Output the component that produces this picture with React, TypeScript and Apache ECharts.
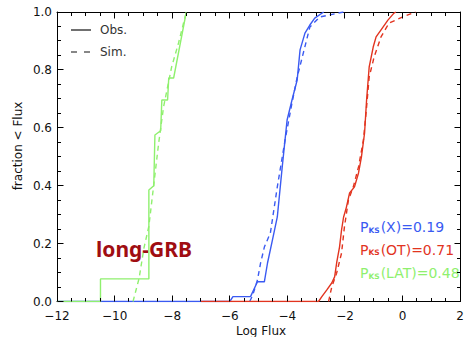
import React, { useEffect, useRef } from "react";
import * as echarts from "echarts";

// ---- data ----
const greenObsX = [-12, -10.49, -10.49, -8.81, -8.81, -8.64, -8.6, -8.4, -8.36, -8.16, -8.12, -7.95, -7.51];
const greenObsF = [0, 0, 0.078, 0.078, 0.385, 0.4, 0.575, 0.59, 0.696, 0.696, 0.772, 0.772, 1.0];
const greenSimX = [-9.36, -9.15, -8.98, -8.81, -8.47, -8.3, -8.02, -7.78, -7.51];
const greenSimF = [0, 0.08, 0.185, 0.26, 0.547, 0.672, 0.81, 0.893, 1.0];

const blueObsX = [-12, -6.0, -5.89, -5.28, -5.04, -4.8, -4.69, -4.52, -4.35, -4.18, -4.01, -3.84, -3.66, -3.56, -3.39, -3.22, -3.05, -2.74];
const blueObsF = [0, 0, 0.017, 0.017, 0.068, 0.068, 0.133, 0.212, 0.292, 0.464, 0.627, 0.696, 0.765, 0.869, 0.927, 0.955, 0.979, 1.0];
const blueSimX = [-5.31, -5.21, -5.04, -4.93, -4.8, -4.59, -4.35, -4.08, -3.84, -3.66, -3.42, -3.22, -2.87, -2.05];
const blueSimF = [0, 0.02, 0.074, 0.133, 0.188, 0.237, 0.396, 0.558, 0.686, 0.775, 0.869, 0.948, 0.983, 1.0];

const redObsX = [-7.0, -2.92, -2.81, -2.63, -2.46, -2.36, -2.29, -2.19, -2.12, -2.05, -1.95, -1.84, -1.67, -1.53, -1.43, -1.32, -1.25, -1.16, -1.02, -0.92, -0.68, -0.51, -0.3, -0.23];
const redObsF = [0, 0, 0.016, 0.04, 0.064, 0.085, 0.133, 0.188, 0.247, 0.291, 0.326, 0.375, 0.396, 0.444, 0.499, 0.582, 0.696, 0.81, 0.879, 0.914, 0.948, 0.972, 0.996, 1.0];
const redSimX = [-2.57, -2.46, -2.29, -2.12, -2.02, -1.88, -1.71, -1.53, -1.36, -1.26, -1.16, -0.99, -0.75, -0.47, 0.01, 0.45];
const redSimF = [0, 0.05, 0.098, 0.167, 0.257, 0.351, 0.396, 0.465, 0.558, 0.661, 0.775, 0.844, 0.914, 0.962, 0.983, 1.0];

// axis ticks (major values; 4 minor intervals per major)
const xMajorTicks = [-12, -10, -8, -6, -4, -2, 0, 2];
const yMajorTicks = [0, 0.2, 0.4, 0.6, 0.8, 1.0];
const minorPerMajor = 4;

const ksSamples = ["X", "OT", "LAT"];
const ksValues = ["0.19", "0.71", "0.48"];
const legendLabels = ["Obs.", "Sim."];
const sampleLabel = "long-GRB";

const BLUE = "#3a5af2";
const RED = "#e2341f";
const GREEN = "#8ff06e";
const INK = "#111111";
const FONT = "DejaVu Sans";

const zip = (xs: number[], ys: number[]) => xs.map((x, i) => [x, ys[i]]);

// tick list: [value, axis (0 = x, 1 = y), major (1) / minor (0)]
const buildTicks = (majors: number[], axis: number) => {
  const out: number[][] = [];
  const step = majors[1] - majors[0];
  majors.forEach((v, i) => {
    for (let k = 0; k < minorPerMajor; k++) {
      if (k > 0 && i === majors.length - 1) break;
      out.push([v + (k * step) / minorPerMajor, axis, k === 0 ? 1 : 0]);
    }
  });
  return out;
};

const frame = () => ({
  splitLine: { show: false },
  axisLine: { show: true, onZero: false, lineStyle: { color: "#000", width: 1 } },
  axisTick: { show: false },
  minorTick: { show: false },
});

export default function App() {
  const ref = useRef<HTMLDivElement>(null);
  useEffect(() => {
    if (!ref.current) return;
    const chart = echarts.init(ref.current, undefined, { renderer: "svg" });

    const mk = (xs: number[], ys: number[], color: string, dashed: boolean) => ({
      type: "line",
      xAxisIndex: 0,
      yAxisIndex: 0,
      data: zip(xs, ys),
      showSymbol: false,
      symbol: "none",
      lineStyle: { color, width: 1.4, type: dashed ? [5, 4] : "solid" },
    });

    const crisp = (p: number) => Math.round(p - 0.5) + 0.5;
    const tickData = [...buildTicks(xMajorTicks, 0), ...buildTicks(yMajorTicks, 1)];

    const ksColors = [BLUE, RED, GREEN];
    const ksY = [227, 249.5, 273];

    chart.setOption({
      animation: false,
      grid: [{ left: 57, top: 12, width: 408, height: 289.5 }],
      xAxis: [
        {
          type: "value",
          min: -12,
          max: 2,
          interval: 2,
          ...frame(),
          axisLabel: {
            margin: 8,
            fontSize: 12,
            fontFamily: FONT,
            color: INK,
            formatter: (v: number) => String(v).replace("-", "\u2212"),
          },
        },
        { type: "value", min: -12, max: 2, interval: 2, position: "top", ...frame(), axisLabel: { show: false } },
      ],
      yAxis: [
        {
          type: "value",
          min: 0,
          max: 1,
          interval: 0.2,
          ...frame(),
          axisLabel: {
            margin: 5,
            fontSize: 12,
            fontFamily: FONT,
            color: INK,
            padding: [4, 0, 0, 0],
            formatter: (v: number) => v.toFixed(1),
          },
        },
        { type: "value", min: 0, max: 1, interval: 0.2, position: "right", ...frame(), axisLabel: { show: false } },
      ],
      series: [
        mk(blueObsX, blueObsF, BLUE, false),
        mk(blueSimX, blueSimF, BLUE, true),
        mk(redObsX, redObsF, RED, false),
        mk(redSimX, redSimF, RED, true),
        mk(greenObsX, greenObsF, GREEN, false),
        mk(greenSimX, greenSimF, GREEN, true),
        {
          type: "custom",
          xAxisIndex: 0,
          yAxisIndex: 0,
          silent: true,
          clip: false,
          z: 10,
          data: tickData,
          renderItem: (params: any, api: any) => {
            const cs = params.coordSys;
            const v = api.value(0);
            const axis = api.value(1);
            const len = api.value(2) ? 6 : 3.5;
            const yb = crisp(cs.y + cs.height);
            const yt = crisp(cs.y);
            const xl = crisp(cs.x);
            const xr = crisp(cs.x + cs.width);
            const st = { stroke: "#000", lineWidth: 1 };
            if (axis === 0) {
              const px = crisp(api.coord([v, 0])[0]);
              return {
                type: "group",
                children: [
                  { type: "line", shape: { x1: px, y1: yb, x2: px, y2: yb - len }, style: st },
                  { type: "line", shape: { x1: px, y1: yt, x2: px, y2: yt + len }, style: st },
                ],
              };
            }
            const py = crisp(api.coord([-12, v])[1]);
            return {
              type: "group",
              children: [
                { type: "line", shape: { x1: xl, y1: py, x2: xl + len, y2: py }, style: st },
                { type: "line", shape: { x1: xr, y1: py, x2: xr - len, y2: py }, style: st },
              ],
            };
          },
        },
      ],
      graphic: [
        {
          type: "text",
          x: 261,
          y: 331,
          style: { text: "Log Flux", fill: INK, font: `12px "${FONT}"`, align: "center", verticalAlign: "middle" },
        },
        {
          type: "text",
          x: 18,
          y: 146,
          rotation: Math.PI / 2,
          style: { text: "fraction < Flux", fill: INK, font: `12px "${FONT}"`, align: "center", verticalAlign: "middle" },
        },
        { type: "line", shape: { x1: 71, y1: 30, x2: 91, y2: 30 }, style: { stroke: INK, lineWidth: 1.2 } },
        {
          type: "text",
          x: 100,
          y: 30,
          style: { text: legendLabels[0], fill: "#333", font: `12px "${FONT}"`, align: "left", verticalAlign: "middle" },
        },
        { type: "line", shape: { x1: 71, y1: 52, x2: 90, y2: 52 }, style: { stroke: INK, lineWidth: 1.2, lineDash: [6, 7] } },
        {
          type: "text",
          x: 100,
          y: 52,
          style: { text: legendLabels[1], fill: "#333", font: `12px "${FONT}"`, align: "left", verticalAlign: "middle" },
        },
        {
          type: "text",
          x: 96,
          y: 249,
          style: { text: sampleLabel, fill: "#a00d12", font: `bold 21px "Noto Sans"`, align: "left", verticalAlign: "middle" },
        },
        ...ksSamples.map((s, i) => ({
          type: "text",
          x: 360,
          y: ksY[i],
          style: {
            text: `{p|P}{s|KS}{t|(${s})=${ksValues[i]}}`,
            align: "left",
            verticalAlign: "middle",
            rich: {
              p: { fill: ksColors[i], fontFamily: FONT, fontSize: 14 },
              s: { fill: ksColors[i], fontFamily: FONT, fontSize: 7.5, fontWeight: "bold", verticalAlign: "bottom", padding: [0, 1, 0, 0] },
              t: { fill: ksColors[i], fontFamily: FONT, fontSize: 14 },
            },
          },
        })),
      ],
    });
    return () => chart.dispose();
  }, []);
  return <div ref={ref} style={{ position: "fixed", left: 0, top: 0, width: 467, height: 337, background: "#fff" }} />;
}
